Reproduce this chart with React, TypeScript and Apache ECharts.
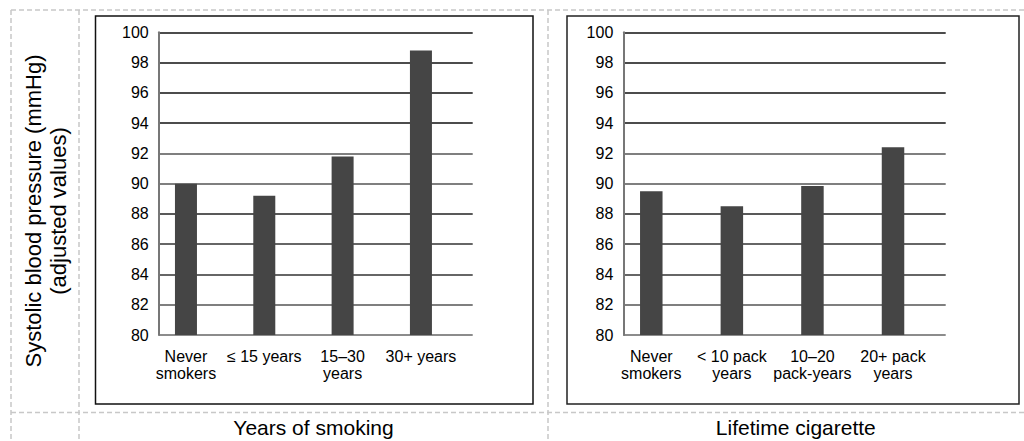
import React, { useEffect, useRef } from "react";
import * as echarts from "echarts";

const yMin = 80;
const yMax = 100;
const yStep = 2;

const leftCategories = ["Never\nsmokers", "\u2264 15 years", "15\u201330\nyears", "30+ years"];
const leftValues = [90.0, 89.2, 91.8, 98.8];

const rightCategories = ["Never\nsmokers", "< 10 pack\nyears", "10\u201320\npack-years", "20+ pack\nyears"];
const rightValues = [89.5, 88.5, 89.85, 92.4];

const yAxisTitleLines = ["Systolic blood pressure (mmHg)", "(adjusted values)"];
const panelTitles = ["Years of smoking", "Lifetime cigarette"];

const FONT = "'Liberation Sans', Arial, Helvetica, sans-serif";
const gridLineColors = ["#666", "#555", "#333", "#333", "#222", "#555", "#555", "#111", "#111", "#111", "#111"];

const PLOT_TOP = 32.3;
const PLOT_H = 302.7;

export default function App() {
  const ref = useRef<HTMLDivElement>(null);

  useEffect(() => {
    if (!ref.current) return;
    const chart = echarts.init(ref.current, undefined, { renderer: "svg" });

    const visualYAxis = (gridIndex: number) => ({
      type: "value",
      gridIndex,
      min: yMin,
      max: yMax,
      interval: yStep,
      axisLine: { show: true, lineStyle: { color: "#777", width: 2 } },
      axisTick: { show: false },
      axisLabel: { color: "#000", fontSize: 16, fontFamily: FONT, margin: 10 },
      splitLine: { show: true, lineStyle: { color: gridLineColors, width: 1.5 } },
    });
    const hiddenYAxis = (gridIndex: number) => ({
      type: "value",
      gridIndex,
      min: yMin,
      max: yMax,
      interval: yStep,
      show: false,
    });
    const hiddenXAxis = (gridIndex: number) => ({
      type: "value",
      gridIndex,
      min: 0,
      max: 1,
      show: false,
    });
    const catXAxis = (gridIndex: number, data: string[]) => ({
      type: "category",
      gridIndex,
      data,
      axisLine: { show: false },
      axisTick: { show: false },
      splitLine: { show: false },
      axisLabel: {
        interval: 0,
        color: "#000",
        fontSize: 16,
        lineHeight: 17,
        fontFamily: FONT,
        margin: 13,
      },
    });

    const dashed = { stroke: "#c8c8c8", lineWidth: 1.5, lineDash: [5, 3] };

    chart.setOption({
      animation: false,
      backgroundColor: "#fff",
      grid: [
        { left: 158.7, top: PLOT_TOP, width: 314, height: PLOT_H, outerBoundsMode: "none" },
        { left: 146.8, top: PLOT_TOP, width: 313.3, height: PLOT_H, outerBoundsMode: "none" },
        { left: 623.3, top: PLOT_TOP, width: 322.4, height: PLOT_H, outerBoundsMode: "none" },
        { left: 611, top: PLOT_TOP, width: 322.3, height: PLOT_H, outerBoundsMode: "none" },
      ],
      xAxis: [
        hiddenXAxis(0),
        catXAxis(1, leftCategories),
        hiddenXAxis(2),
        catXAxis(3, rightCategories),
      ],
      yAxis: [visualYAxis(0), hiddenYAxis(1), visualYAxis(2), hiddenYAxis(3)],
      series: [
        {
          type: "bar",
          xAxisIndex: 1,
          yAxisIndex: 1,
          data: leftValues,
          barWidth: 22,
          itemStyle: { color: "#454545" },
          z: 5,
        },
        {
          type: "bar",
          xAxisIndex: 3,
          yAxisIndex: 3,
          data: rightValues,
          barWidth: 22.5,
          itemStyle: { color: "#454545" },
          z: 5,
        },
      ],
      graphic: [
        // dashed layout lines
        { type: "line", shape: { x1: 11, y1: 10, x2: 11, y2: 441 }, style: dashed, silent: true },
        { type: "line", shape: { x1: 79, y1: 10, x2: 79, y2: 441 }, style: dashed, silent: true },
        { type: "line", shape: { x1: 548, y1: 10, x2: 548, y2: 441 }, style: dashed, silent: true },
        { type: "line", shape: { x1: 11, y1: 10, x2: 1024, y2: 10 }, style: dashed, silent: true },
        { type: "line", shape: { x1: 11, y1: 412.5, x2: 1024, y2: 412.5 }, style: dashed, silent: true },
        // panel boxes
        {
          type: "rect",
          shape: { x: 95.5, y: 16, width: 437.5, height: 388 },
          style: { fill: "none", stroke: "#111", lineWidth: 1.5 },
          silent: true,
          z: -1,
        },
        {
          type: "rect",
          shape: { x: 567, y: 16, width: 452, height: 388 },
          style: { fill: "none", stroke: "#222", lineWidth: 1.5 },
          silent: true,
          z: -1,
        },
        // y axis title (rotated)
        {
          type: "text",
          x: 33.5,
          y: 211,
          rotation: Math.PI / 2,
          style: {
            text: yAxisTitleLines[0],
            fontSize: 22,
            fontFamily: FONT,
            fill: "#000",
            align: "center",
            verticalAlign: "middle",
          },
        },
        {
          type: "text",
          x: 58,
          y: 211,
          rotation: Math.PI / 2,
          style: {
            text: yAxisTitleLines[1],
            fontSize: 22,
            fontFamily: FONT,
            fill: "#000",
            align: "center",
            verticalAlign: "middle",
          },
        },
        // panel titles
        {
          type: "text",
          x: 313.5,
          y: 427,
          style: {
            text: panelTitles[0],
            fontSize: 21,
            fontFamily: FONT,
            fill: "#000",
            align: "center",
            verticalAlign: "middle",
          },
        },
        {
          type: "text",
          x: 795.8,
          y: 427,
          style: {
            text: panelTitles[1],
            fontSize: 21,
            fontFamily: FONT,
            fill: "#000",
            align: "center",
            verticalAlign: "middle",
          },
        },
      ],
    });

    return () => chart.dispose();
  }, []);

  return (
    <div
      ref={ref}
      style={{ position: "absolute", left: 0, top: 0, width: 1024, height: 441 }}
    />
  );
}
